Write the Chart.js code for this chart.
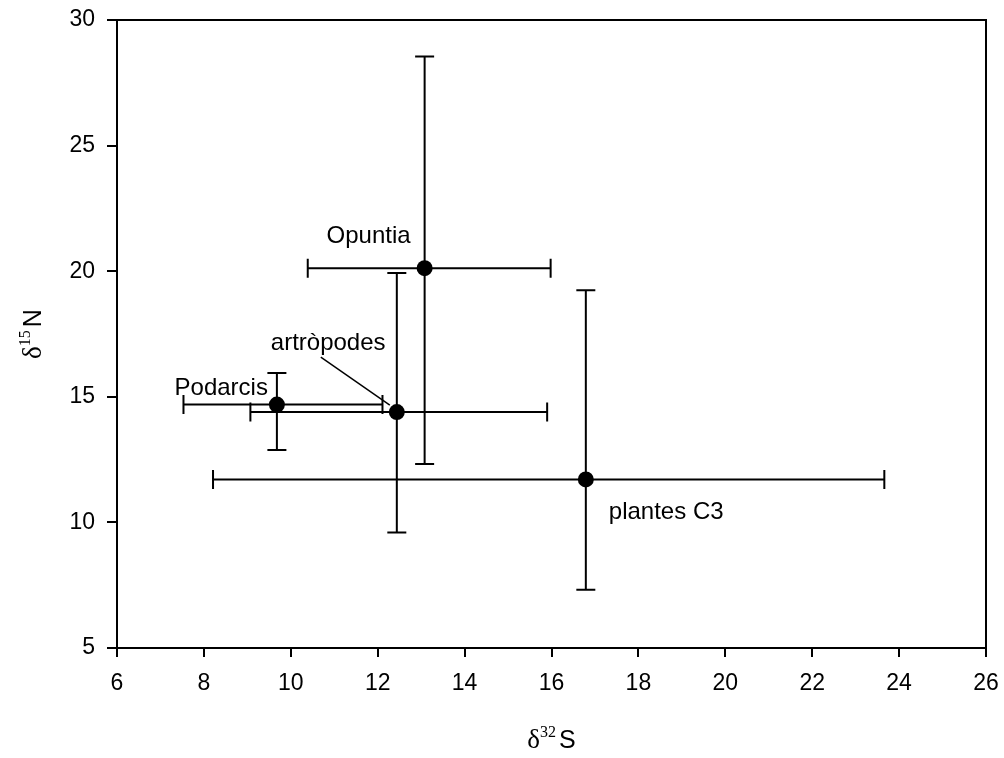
<!DOCTYPE html>
<html>
<head>
<meta charset="utf-8">
<script src="https://cdn.jsdelivr.net/npm/chart.js@4.4.1/dist/chart.umd.min.js"></script>
<style>
html,body{margin:0;padding:0;background:#fff;}
#wrap{width:1004px;height:758px;}
</style>
</head>
<body>
<div id="wrap"><canvas id="c" width="1004" height="758"></canvas></div>
<script>
// ---- data ----
const groups = ["Podarcis", "artròpodes", "Opuntia", "plantes C3"];
const sulfur = [9.68, 12.44, 13.08, 16.79];     // δ32S means
const nitrogen = [14.69, 14.39, 20.12, 11.71];  // δ15N means
const sulfurLow = [7.53, 9.07, 10.39, 8.21];
const sulfurHigh = [12.11, 15.90, 15.98, 23.66];
const nitrogenLow = [12.88, 9.60, 12.32, 7.32];
const nitrogenHigh = [15.95, 19.93, 28.55, 19.24];
const xTicks = [6, 8, 10, 12, 14, 16, 18, 20, 22, 24, 26];
const yTicks = [5, 10, 15, 20, 25, 30];

const SANS = "'Liberation Sans', Arial, Helvetica, sans-serif";
const SERIF = "'Liberation Serif', 'Times New Roman', serif";

const points = groups.map((g, i) => ({ x: sulfur[i], y: nitrogen[i] }));

// label placement relative to each point (pixels)
const labelStyle = {
  "Podarcis":   { dx: -9,   dy: -10,  align: "right" },
  "artròpodes": { dx: -126, dy: -62,  align: "left", leader: [-76, -55, -7, -7] },
  "Opuntia":    { dx: -14,  dy: -25,  align: "right" },
  "plantes C3": { dx: 23,   dy: 40,   align: "left" }
};

const errorBars = {
  id: "errorBars",
  beforeDatasetsDraw(chart) {
    const { ctx, scales: { x, y } } = chart;
    const cap = 9.5;
    ctx.save();
    ctx.strokeStyle = "#000";
    ctx.lineWidth = 2;
    groups.forEach((g, i) => {
      const px = x.getPixelForValue(sulfur[i]);
      const py = y.getPixelForValue(nitrogen[i]);
      const xl = x.getPixelForValue(sulfurLow[i]);
      const xh = x.getPixelForValue(sulfurHigh[i]);
      const yl = y.getPixelForValue(nitrogenLow[i]);
      const yh = y.getPixelForValue(nitrogenHigh[i]);
      ctx.beginPath();
      ctx.moveTo(xl, py); ctx.lineTo(xh, py);
      ctx.moveTo(xl, py - cap); ctx.lineTo(xl, py + cap);
      ctx.moveTo(xh, py - cap); ctx.lineTo(xh, py + cap);
      ctx.moveTo(px, yl); ctx.lineTo(px, yh);
      ctx.moveTo(px - cap, yl); ctx.lineTo(px + cap, yl);
      ctx.moveTo(px - cap, yh); ctx.lineTo(px + cap, yh);
      ctx.stroke();
    });
    ctx.restore();
  },
  afterDatasetsDraw(chart) {
    const { ctx, scales: { x, y }, chartArea: a } = chart;
    ctx.save();
    // frame top & right
    ctx.strokeStyle = "#000";
    ctx.lineWidth = 2;
    ctx.beginPath();
    ctx.moveTo(a.left, a.top); ctx.lineTo(a.right, a.top); ctx.lineTo(a.right, a.bottom);
    ctx.stroke();
    // labels
    ctx.fillStyle = "#000";
    ctx.font = "24px " + SANS;
    ctx.textBaseline = "alphabetic";
    groups.forEach((g, i) => {
      const s = labelStyle[g];
      const px = x.getPixelForValue(sulfur[i]);
      const py = y.getPixelForValue(nitrogen[i]);
      ctx.textAlign = s.align;
      ctx.fillText(g, px + s.dx, py + s.dy);
      if (s.leader) {
        ctx.lineWidth = 1.5;
        ctx.beginPath();
        ctx.moveTo(px + s.leader[0], py + s.leader[1]);
        ctx.lineTo(px + s.leader[2], py + s.leader[3]);
        ctx.stroke();
      }
    });
    // axis titles
    drawTitle(ctx, "32", "S", (a.left + a.right) / 2, 748, 0);
    drawTitle(ctx, "15", "N", 41, (a.top + a.bottom) / 2, -Math.PI / 2);
    ctx.restore();
  }
};

function drawTitle(ctx, sup, main, cx, baseY, rot) {
  ctx.save();
  const fD = "27px " + SERIF, fS = "16px " + SERIF, fM = "25px " + SANS;
  ctx.font = fD; const wD = ctx.measureText("δ").width;
  ctx.font = fS; const wS = ctx.measureText(sup).width;
  ctx.font = fM; const wM = ctx.measureText(main).width;
  const gap = 3;
  const total = wD + wS + gap + wM;
  ctx.translate(cx, baseY);
  ctx.rotate(rot);
  ctx.textAlign = "left";
  ctx.textBaseline = "alphabetic";
  ctx.fillStyle = "#000";
  let xx = -total / 2;
  ctx.font = fD; ctx.fillText("δ", xx, 0); xx += wD;
  ctx.font = fS; ctx.fillText(sup, xx, -11); xx += wS + gap;
  ctx.font = fM; ctx.fillText(main, xx, 0);
  ctx.restore();
}

new Chart(document.getElementById("c"), {
  type: "scatter",
  data: {
    datasets: [{
      data: points,
      backgroundColor: "#000",
      borderColor: "#000",
      pointRadius: 8,
      pointHoverRadius: 8,
      borderWidth: 0
    }]
  },
  options: {
    responsive: false,
    animation: false,
    devicePixelRatio: 1,
    layout: { padding: { top: 20, right: 18, left: 0, bottom: 0 } },
    plugins: { legend: { display: false }, tooltip: { enabled: false } },
    scales: {
      x: {
        type: "linear", min: 6, max: 26,
        afterBuildTicks(s) { s.ticks = xTicks.map(v => ({ value: v })); },
        afterFit(s) { s.height = 110; s.paddingLeft = 0; s.paddingRight = 0; },
        grid: { drawOnChartArea: false, drawTicks: true, tickLength: 9, color: "#000", lineWidth: 2 },
        border: { display: true, color: "#000", width: 2 },
        ticks: { color: "#000", font: { family: SANS, size: 23 }, padding: 13, maxRotation: 0 }
      },
      y: {
        type: "linear", min: 5, max: 30,
        afterBuildTicks(s) { s.ticks = yTicks.map(v => ({ value: v })); },
        afterFit(s) { s.width = 117; s.paddingTop = 0; s.paddingBottom = 0; },
        grid: { drawOnChartArea: false, drawTicks: true, tickLength: 10, color: "#000", lineWidth: 2 },
        border: { display: true, color: "#000", width: 2 },
        ticks: { color: "#000", font: { family: SANS, size: 23 }, padding: 12 }
      }
    }
  },
  plugins: [errorBars]
});
</script>
</body>
</html>
